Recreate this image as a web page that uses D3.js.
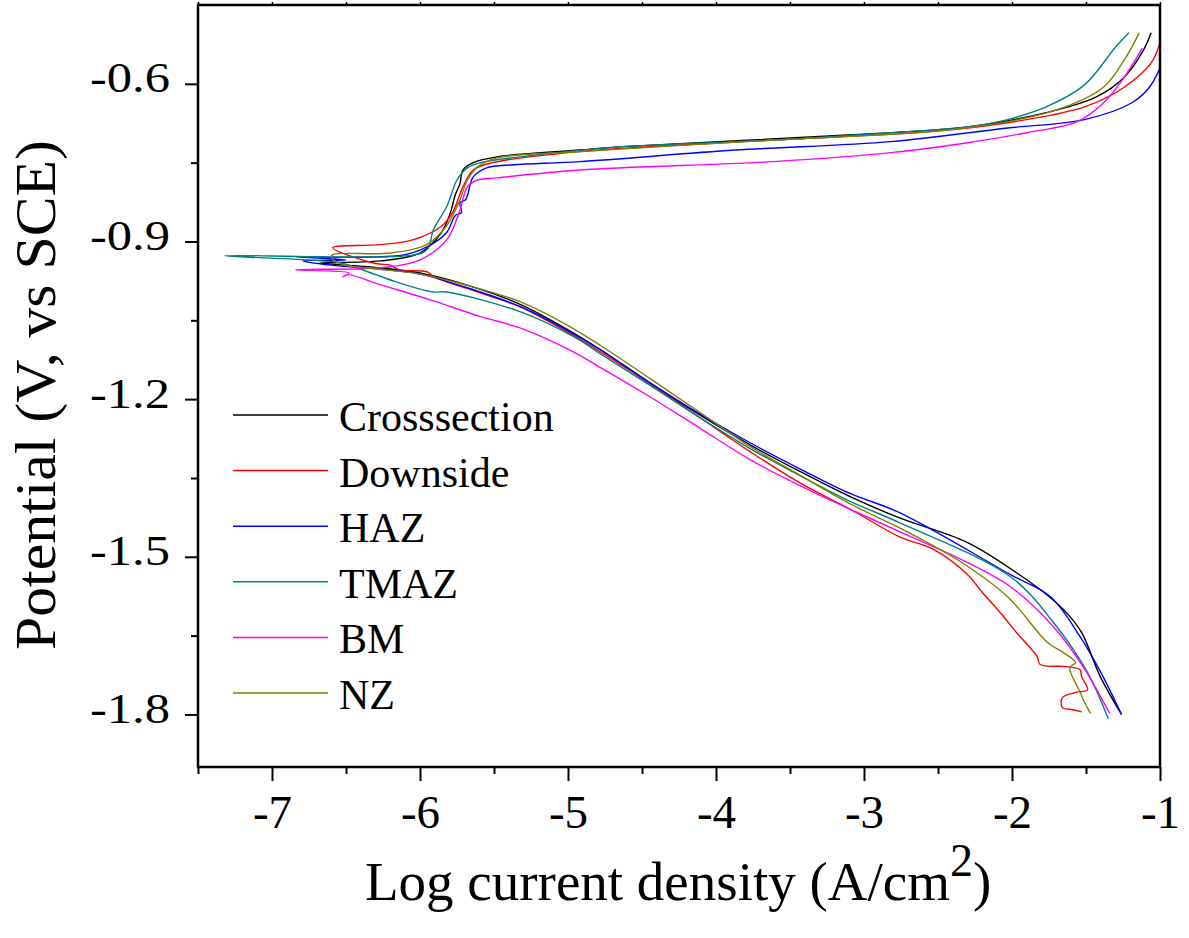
<!DOCTYPE html>
<html>
<head>
<meta charset="utf-8">
<script src="https://cdn.jsdelivr.net/npm/d3@7"></script>
<style>
  body { margin: 0; background: #fff; }
  svg text { font-family: "Liberation Serif", "Times New Roman", serif; fill: #000; }
</style>
</head>
<body>
<svg id="chart" width="1189" height="938"></svg>
<script>
// series names and colours (legend order)
let names = ['Crosssection', 'Downside', 'HAZ', 'TMAZ', 'BM', 'NZ']
let colors = ['#000000', '#ff0000', '#0000ff', '#008080', '#ff00ff', '#808000']

// tick values
let xMajor = [-7, -6, -5, -4, -3, -2, -1]
let xMinor = [-7.5, -6.5, -5.5, -4.5, -3.5, -2.5, -1.5]
let yMajor = [-0.6, -0.9, -1.2, -1.5, -1.8]
let yMinor = [-0.75, -1.05, -1.35, -1.65]

// [log i, E], scan order: cathodic -> Ecorr -> anodic
let crosssection = [
    [-1.26, -1.80], [-1.40, -1.73], [-1.53, -1.644], [-1.62, -1.61], [-1.74, -1.578], [-1.93, -1.538],
    [-2.30, -1.473], [-2.76, -1.426], [-3.09, -1.386], [-3.43, -1.338], [-3.77, -1.287],
    [-4.11, -1.230], [-4.45, -1.169], [-4.78, -1.106], [-5.0, -1.068], [-5.32, -1.020],
    [-5.66, -0.985], [-6.0, -0.960], [-6.27, -0.950], [-6.5, -0.945], [-6.68, -0.941],
    [-6.27, -0.937], [-6.0, -0.922], [-5.86, -0.885], [-5.80, -0.850], [-5.76, -0.810],
    [-5.73, -0.790], [-5.71, -0.764], [-5.64, -0.750], [-5.48, -0.739], [-4.92, -0.726],
    [-4.66, -0.720], [-3.08, -0.697], [-2.30, -0.682], [-1.77, -0.655], [-1.43, -0.625],
    [-1.24, -0.587], [-1.11, -0.535], [-1.06, -0.503]
]
let downside = [
    [-1.53, -1.795], [-1.59, -1.791], [-1.66, -1.787], [-1.66, -1.768], [-1.57, -1.758],
    [-1.49, -1.753], [-1.53, -1.728], [-1.54, -1.715], [-1.63, -1.709], [-1.81, -1.705],
    [-1.83, -1.690], [-1.97, -1.644], [-2.08, -1.606], [-2.20, -1.568], [-2.30, -1.534],
    [-2.53, -1.486], [-2.76, -1.462], [-3.09, -1.410], [-3.43, -1.360], [-3.77, -1.300],
    [-4.11, -1.235], [-4.45, -1.170], [-4.78, -1.110], [-5.0, -1.073], [-5.32, -1.025],
    [-5.59, -0.998], [-5.91, -0.967], [-5.95, -0.958], [-6.14, -0.954], [-6.20, -0.945],
    [-6.30, -0.942], [-6.59, -0.912], [-6.27, -0.906], [-6.05, -0.897], [-5.86, -0.872],
    [-5.78, -0.845], [-5.71, -0.796], [-5.64, -0.764], [-5.51, -0.750], [-4.92, -0.729],
    [-3.61, -0.707], [-2.55, -0.691], [-2.03, -0.674], [-1.51, -0.644], [-1.24, -0.606],
    [-1.06, -0.560], [-1.0, -0.522]
]
let haz = [
    [-1.26, -1.80], [-1.40, -1.72], [-1.54, -1.652], [-1.74, -1.576], [-2.01, -1.534],
    [-2.76, -1.416], [-3.09, -1.380], [-3.43, -1.333], [-3.77, -1.283], [-4.11, -1.228],
    [-4.45, -1.168], [-4.78, -1.106], [-5.0, -1.070], [-5.32, -1.024], [-5.66, -0.990],
    [-6.0, -0.962], [-6.3, -0.952], [-6.6, -0.945], [-6.79, -0.937], [-6.5, -0.935],
    [-6.84, -0.929], [-6.4, -0.930], [-6.1, -0.925], [-5.95, -0.910], [-5.82, -0.883],
    [-5.76, -0.850], [-5.72, -0.845], [-5.73, -0.826], [-5.69, -0.820], [-5.66, -0.790],
    [-5.64, -0.777], [-5.55, -0.760], [-5.37, -0.754], [-4.92, -0.748], [-3.87, -0.726],
    [-2.82, -0.710], [-2.03, -0.684], [-1.51, -0.668], [-1.19, -0.636], [-1.07, -0.606],
    [-1.0, -0.570]
]
let tmaz = [
    [-1.35, -1.808], [-1.49, -1.720], [-1.72, -1.625], [-2.01, -1.538], [-2.76, -1.435],
    [-3.09, -1.395], [-3.43, -1.346], [-3.77, -1.294], [-4.11, -1.235], [-4.45, -1.173],
    [-4.78, -1.114], [-4.95, -1.083], [-5.32, -1.034], [-5.82, -0.996], [-5.91, -0.996],
    [-6.16, -0.977], [-6.30, -0.963], [-6.43, -0.950], [-6.55, -0.940], [-7.32, -0.927],
    [-6.05, -0.926], [-5.95, -0.915], [-5.91, -0.878], [-5.82, -0.834], [-5.75, -0.783],
    [-5.68, -0.760], [-5.59, -0.750], [-5.20, -0.735], [-4.66, -0.720], [-3.61, -0.707],
    [-2.82, -0.693], [-2.30, -0.682], [-2.03, -0.668], [-1.77, -0.644], [-1.51, -0.602],
    [-1.30, -0.530], [-1.21, -0.503]
]
let bm = [
    [-1.34, -1.798], [-1.52, -1.709], [-1.72, -1.633], [-2.01, -1.557], [-2.30, -1.511],
    [-2.76, -1.452], [-3.09, -1.410], [-3.43, -1.365], [-3.77, -1.315], [-4.11, -1.255],
    [-4.45, -1.195], [-4.78, -1.140], [-5.0, -1.105], [-5.32, -1.065], [-5.59, -1.043],
    [-5.93, -1.011], [-6.27, -0.982], [-6.49, -0.963], [-6.52, -0.967], [-6.48, -0.960],
    [-6.84, -0.954], [-6.40, -0.952], [-6.20, -0.948], [-6.0, -0.935], [-5.82, -0.897],
    [-5.73, -0.840], [-5.68, -0.796], [-5.61, -0.783], [-5.48, -0.779], [-4.92, -0.764],
    [-3.61, -0.748], [-2.82, -0.731], [-2.30, -0.712], [-1.90, -0.693], [-1.56, -0.672],
    [-1.38, -0.636], [-1.24, -0.587], [-1.12, -0.532]
]
let nz = [
    [-1.47, -1.798], [-1.52, -1.771], [-1.54, -1.757], [-1.61, -1.711], [-1.57, -1.701],
    [-1.66, -1.681], [-1.76, -1.663], [-2.03, -1.576], [-2.35, -1.509], [-2.76, -1.445],
    [-3.09, -1.400], [-3.43, -1.345], [-3.77, -1.290], [-4.11, -1.225], [-4.45, -1.160],
    [-4.78, -1.098], [-5.0, -1.060], [-5.32, -1.015], [-5.66, -0.985], [-6.0, -0.962],
    [-6.3, -0.952], [-6.52, -0.944], [-6.60, -0.930], [-6.59, -0.925], [-6.20, -0.922],
    [-5.95, -0.905], [-5.82, -0.870], [-5.73, -0.821], [-5.68, -0.783], [-5.61, -0.758],
    [-5.48, -0.741], [-4.92, -0.729], [-3.61, -0.707], [-2.55, -0.691], [-2.03, -0.672],
    [-1.64, -0.644], [-1.38, -0.606], [-1.24, -0.554], [-1.14, -0.503]
]
let seriesData = [crosssection, downside, haz, tmaz, bm, nz]

let svg = d3.select('#chart')
let plotLeft = 198, plotRight = 1160, plotTop = 5, plotBottom = 767
let xScale = d3.scaleLinear().domain([-7.5, -1]).range([plotLeft, plotRight])
let yScale = d3.scaleLinear().domain([-1.9, -0.45]).range([plotBottom, plotTop])

// curves
let line = d3.line().x(d => xScale(d[0])).y(d => yScale(d[1]))
    .curve(d3.curveCatmullRom.alpha(0.5))
for (let i = 0; i < seriesData.length; i++) {
    svg.append('path').datum(seriesData[i])
        .attr('d', line)
        .attr('fill', 'none')
        .attr('stroke', colors[i])
        .attr('stroke-width', 1.4)
        .attr('stroke-linejoin', 'round')
}

// bottom axis
let gx = svg.append('g').attr('transform', 'translate(0,' + plotBottom + ')')
    .call(d3.axisBottom(xScale).tickValues(xMajor).tickSize(14).tickFormat(d => String(d)))
gx.select('.domain').remove()
gx.selectAll('line').attr('stroke-width', 2)
gx.selectAll('text').attr('font-size', 47).attr('font-family', '"Liberation Serif", serif')
    .attr('dy', 0).attr('y', 61)
let gxm = svg.append('g').attr('transform', 'translate(0,' + plotBottom + ')')
    .call(d3.axisBottom(xScale).tickValues(xMinor).tickSize(7).tickFormat(''))
gxm.select('.domain').remove()
gxm.selectAll('line').attr('stroke-width', 2)

// left axis
let gy = svg.append('g').attr('transform', 'translate(' + plotLeft + ',0)')
    .call(d3.axisLeft(yScale).tickValues(yMajor).tickSize(13).tickFormat(d => d.toFixed(1)))
gy.select('.domain').remove()
gy.selectAll('line').attr('stroke-width', 2)
gy.selectAll('text').attr('font-size', 42).attr('font-family', '"Liberation Serif", serif')
    .attr('x', -28).attr('dy', 8)
    .attr('textLength', 80).attr('lengthAdjust', 'spacingAndGlyphs')
let gym = svg.append('g').attr('transform', 'translate(' + plotLeft + ',0)')
    .call(d3.axisLeft(yScale).tickValues(yMinor).tickSize(7).tickFormat(''))
gym.select('.domain').remove()
gym.selectAll('line').attr('stroke-width', 2)

// top axis small ticks
let gt = svg.append('g').attr('transform', 'translate(0,' + plotTop + ')')
    .call(d3.axisTop(xScale).tickValues(xMajor.concat(xMinor)).tickSize(3).tickFormat(''))
gt.select('.domain').remove()
gt.selectAll('line').attr('stroke-width', 1.5)

// frame
svg.append('rect')
    .attr('x', plotLeft).attr('y', plotTop)
    .attr('width', plotRight - plotLeft).attr('height', plotBottom - plotTop)
    .attr('fill', 'none').attr('stroke', '#000').attr('stroke-width', 2.5)

// axis titles
let xt = svg.append('text').attr('x', 365).attr('y', 900).attr('font-size', 55)
xt.append('tspan').text('Log current density (A/cm')
xt.append('tspan').text('2').attr('font-size', 46).attr('dy', -24)
xt.append('tspan').text(')').attr('dy', 24)

svg.append('text')
    .attr('transform', 'translate(55,395) rotate(-90)')
    .attr('text-anchor', 'middle')
    .attr('font-size', 56)
    .attr('textLength', 510).attr('lengthAdjust', 'spacingAndGlyphs')
    .text('Potential (V, vs SCE)')

// legend
let legendY = d3.scaleLinear().domain([0, 5]).range([415, 693])
let legend = svg.append('g')
names.forEach((n, i) => {
    let yy = legendY(i)
    legend.append('line').attr('x1', 233).attr('x2', 328).attr('y1', yy).attr('y2', yy)
        .attr('stroke', colors[i]).attr('stroke-width', 1.5)
    legend.append('text').attr('x', 339).attr('y', yy + 16).attr('font-size', 42).text(n)
})
</script>
</body>
</html>
